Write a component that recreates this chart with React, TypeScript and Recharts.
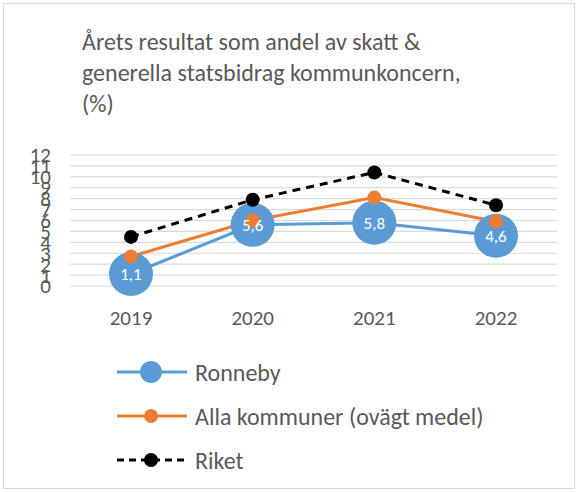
import React from 'react';
import { LineChart, Line, XAxis, YAxis, CartesianGrid, LabelList } from 'recharts';

const years = ['2019', '2020', '2021', '2022'];
const ronneby = [1.1, 5.6, 5.8, 4.6];
const allaKommuner = [2.7, 6.0, 8.1, 5.9];
const riket = [4.5, 7.9, 10.4, 7.4];
const yTicks = [0, 1, 2, 3, 4, 5, 6, 7, 8, 9, 10, 11, 12];

const data = years.map((year, i) => ({
  year,
  ronneby: ronneby[i],
  alla: allaKommuner[i],
  riket: riket[i],
}));

const FONT = 'Carlito, Calibri, "Open Sans", "Liberation Sans", sans-serif';
const GRAY = '#595959';

const legendItems = [
  { name: 'Ronneby', color: '#5B9BD5', r: 11, dash: undefined as string | undefined },
  { name: 'Alla kommuner (ovägt medel)', color: '#ED7D31', r: 7, dash: undefined },
  { name: 'Riket', color: '#000000', r: 7, dash: '7 5' },
];

const ChartLegend = () => (
  <div style={{ position: 'absolute', left: 117, top: 350 }}>
    {legendItems.map((it) => (
      <div key={it.name} style={{ display: 'flex', alignItems: 'center', height: 44 }}>
        <svg width={70} height={30}>
          <line x1={0} y1={15} x2={70} y2={15} stroke={it.color} strokeWidth={3} strokeDasharray={it.dash} />
          <circle cx={34} cy={15} r={it.r} fill={it.color} />
        </svg>
        <span style={{ marginLeft: 8, fontSize: 24, color: GRAY, fontFamily: FONT }}>{it.name}</span>
      </div>
    ))}
  </div>
);

const App: React.FC = () => {
  return (
    <div
      style={{
        position: 'absolute',
        left: 0,
        top: 0,
        width: 579,
        height: 492,
        background: '#fff',
        fontFamily: FONT,
      }}
    >
      <div
        style={{
          position: 'absolute',
          left: 3,
          top: 3,
          width: 572,
          height: 486,
          border: '1px solid #d9d9d9',
          boxSizing: 'border-box',
        }}
      />
      <div
        style={{
          position: 'absolute',
          left: 82,
          top: 26,
          fontSize: 24,
          lineHeight: '31px',
          color: GRAY,
        }}
      >
        Årets resultat som andel av skatt &amp;
        <br />
        generella statsbidrag kommunkoncern,
        <br />
        (%)
      </div>
      <LineChart
        width={579}
        height={492}
        data={data}
        margin={{ top: 155, right: 22, bottom: 176, left: 0 }}
        style={{ position: 'absolute', left: 0, top: 0 }}
      >
        <CartesianGrid vertical={false} stroke="#d9d9d9" strokeWidth={1.2} />
        <XAxis
          dataKey="year"
          axisLine={false}
          tickLine={false}
          padding={{ left: 61, right: 61 }}
          tick={{ fill: GRAY, fontSize: 21, fontFamily: FONT }}
          tickMargin={18}
        />
        <YAxis
          domain={[0, 12]}
          ticks={yTicks}
          interval={0}
          axisLine={false}
          tickLine={false}
          width={70}
          tick={{ fill: GRAY, fontSize: 21, fontFamily: FONT }}
          tickMargin={13}
        />
        <Line
          dataKey="ronneby"
          name="Ronneby"
          stroke="#5B9BD5"
          strokeWidth={3}
          dot={{ r: 22, fill: '#5B9BD5', stroke: '#5B9BD5', strokeWidth: 0 }}
          isAnimationActive={false}
        >
          <LabelList
            dataKey="ronneby"
            position="center"
            fill="#fff"
            fontSize={17}
            fontFamily={FONT}
            formatter={(v: any) => String(v).replace('.', ',')}
          />
        </Line>
        <Line
          dataKey="alla"
          name="Alla kommuner (ovägt medel)"
          stroke="#ED7D31"
          strokeWidth={3}
          dot={{ r: 7, fill: '#ED7D31', stroke: '#ED7D31', strokeWidth: 0 }}
          isAnimationActive={false}
        />
        <Line
          dataKey="riket"
          name="Riket"
          stroke="#000"
          strokeWidth={3}
          strokeDasharray="8 6"
          dot={{ r: 7, fill: '#000', stroke: '#000', strokeWidth: 0, strokeDasharray: '' }}
          isAnimationActive={false}
        />
      </LineChart>
      <ChartLegend />
    </div>
  );
};

export default App;
